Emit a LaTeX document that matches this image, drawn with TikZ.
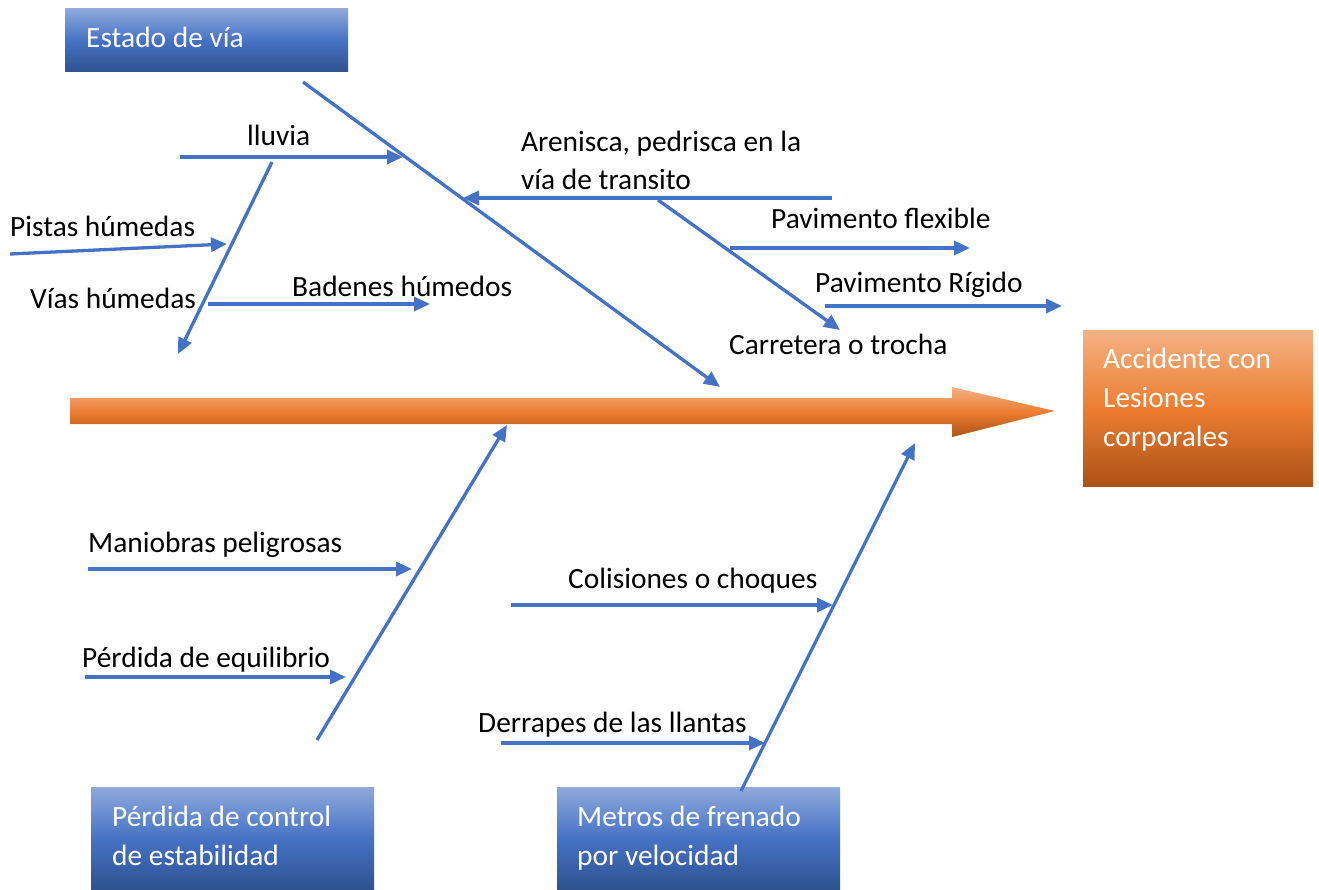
\documentclass[tikz,border=0pt]{standalone}
\usepackage{fontspec}
\setmainfont{Carlito}
\usetikzlibrary{arrows.meta}
\definecolor{boneblue}{RGB}{68,114,196}
\definecolor{bxtop}{RGB}{143,170,220}
\definecolor{bxmid}{RGB}{70,114,196}
\definecolor{bxbot}{RGB}{47,82,143}
\definecolor{ortop}{RGB}{244,177,131}
\definecolor{ormid}{RGB}{237,125,49}
\definecolor{orbot}{RGB}{172,82,22}
\begin{document}
\begin{tikzpicture}[x=1pt,y=-1pt,
  bonearrow/.style={draw=boneblue, line width=3.3pt, -{Triangle[length=16pt,width=14pt]}},
  lbl/.style={anchor=base west, inner sep=0pt, font=\fontsize{29.4}{36}\selectfont},
  wlbl/.style={lbl, text=white},
  bluebox/.style={rectangle, inner sep=0pt, top color=bxtop, bottom color=bxbot, middle color=bxmid},
  orangebox/.style={rectangle, inner sep=0pt, top color=ortop, bottom color=orbot, middle color=ormid}]
\useasboundingbox (0,0) rectangle (1319,890);

% spine
\shade[top color=ortop, bottom color=orbot, middle color=ormid]
  (70,398) -- (952,398) -- (952,387) -- (1055,411) -- (952,437) -- (952,424) -- (70,424) -- cycle;

% boxes
\node[bluebox, minimum width=283pt, minimum height=63pt] (estado) at (206.5,40.5) {};
\node[wlbl] (estadoT) at (86,48) {Estado de vía};
\node[bluebox, minimum width=283pt, minimum height=103pt] (perdida) at (232.5,838.5) {};
\node[wlbl] (perdidaT1) at (112,826) {Pérdida de control};
\node[wlbl] (perdidaT2) at (112,865) {de estabilidad};
\node[bluebox, minimum width=283pt, minimum height=103pt] (metros) at (698.5,838.5) {};
\node[wlbl] (metrosT1) at (577,826) {Metros de frenado};
\node[wlbl] (metrosT2) at (577,865) {por velocidad};
\node[orangebox, minimum width=230pt, minimum height=155pt] (accidente) at (1198,408.5) {};
\node[wlbl] (accT1) at (1103,368) {Accidente con};
\node[wlbl] (accT2) at (1103,407) {Lesiones};
\node[wlbl] (accT3) at (1103,446) {corporales};

% coordinates
\coordinate (b1s) at (303,82);  \coordinate (b1e) at (720,387);
\coordinate (llS) at (180,157); \coordinate (llE) at (403,157);
\coordinate (l2S) at (272,162); \coordinate (l2E) at (178,354);
\coordinate (piS) at (10,254);  \coordinate (piE) at (227,244);
\coordinate (baS) at (208,304); \coordinate (baE) at (430,304);
\coordinate (arS) at (832,198); \coordinate (arE) at (463,198);
\coordinate (a2S) at (658,200); \coordinate (a2E) at (840,330);
\coordinate (pfS) at (730,248); \coordinate (pfE) at (970,248);
\coordinate (prS) at (825,306); \coordinate (prE) at (1062,306);
\coordinate (b2s) at (317,740); \coordinate (b2e) at (507,425);
\coordinate (maS) at (88,569);  \coordinate (maE) at (412,569);
\coordinate (peS) at (85,677);  \coordinate (peE) at (346,677);
\coordinate (b3s) at (741,791); \coordinate (b3e) at (915,443);
\coordinate (coS) at (511,605); \coordinate (coE) at (833,605);
\coordinate (deS) at (501,743); \coordinate (deE) at (765,743);

% connectors
\draw[bonearrow] (b1s) -- (b1e);
\draw[bonearrow] (llS) -- (llE);
\draw[bonearrow] (l2S) -- (l2E);
\draw[bonearrow] (piS) -- (piE);
\draw[bonearrow] (baS) -- (baE);
\draw[bonearrow] (arS) -- (arE);
\draw[bonearrow] (a2S) -- (a2E);
\draw[bonearrow] (pfS) -- (pfE);
\draw[bonearrow] (prS) -- (prE);
\draw[bonearrow] (b2s) -- (b2e);
\draw[bonearrow] (maS) -- (maE);
\draw[bonearrow] (peS) -- (peE);
\draw[bonearrow] (b3s) -- (b3e);
\draw[bonearrow] (coS) -- (coE);
\draw[bonearrow] (deS) -- (deE);

% labels
\node[lbl] (lluvia) at (247,146) {lluvia};
\node[lbl] (pistas) at (10,237) {Pistas húmedas};
\node[lbl] (vias) at (30,309) {Vías húmedas};
\node[lbl] (badenes) at (292,297) {Badenes húmedos};
\node[lbl] (arenisca1) at (521,152) {Arenisca, pedrisca en la};
\node[lbl] (arenisca2) at (521,190) {vía de transito};
\node[lbl] (pflex) at (771,229) {Pavimento flexible};
\node[lbl] (prig) at (815,293) {Pavimento Rígido};
\node[lbl] (carretera) at (729,355) {Carretera o trocha};
\node[lbl] (maniobras) at (88,552) {Maniobras peligrosas};
\node[lbl] (equilibrio) at (82,667) {Pérdida de equilibrio};
\node[lbl] (colisiones) at (568,588) {Colisiones o choques};
\node[lbl] (derrapes) at (478,732) {Derrapes de las llantas};
\end{tikzpicture}
\end{document}
